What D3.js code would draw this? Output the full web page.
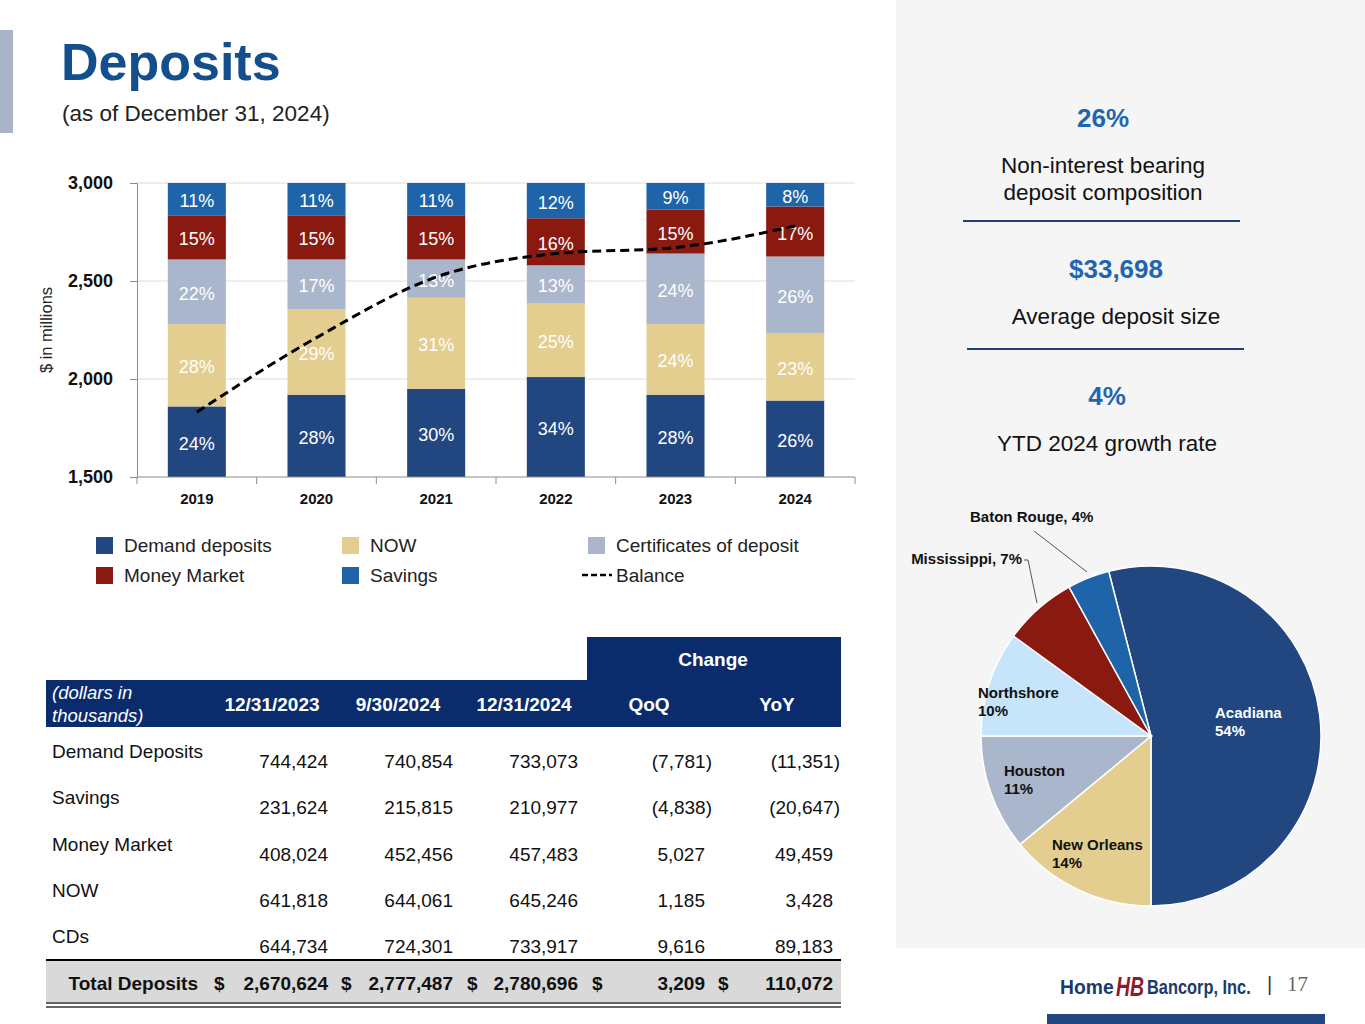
<!DOCTYPE html>
<html>
<head>
<meta charset="utf-8">
<script src="https://cdnjs.cloudflare.com/ajax/libs/d3/7.8.5/d3.min.js"></script>
<style>
  html, body { margin: 0; padding: 0; background: #fff; }
  svg { display: block; font-family: "Liberation Sans", Arial, sans-serif; }
</style>
</head>
<body>
<div id="chart"></div>
<script>
// bar chart data
var years = ['2019', '2020', '2021', '2022', '2023', '2024'];
var seriesNames = ['Demand deposits', 'NOW', 'Certificates of deposit', 'Money Market', 'Savings'];
var demandPct = [24, 28, 30, 34, 28, 26];
var nowPct = [28, 29, 31, 25, 24, 23];
var cdPct = [22, 17, 13, 13, 24, 26];
var mmPct = [15, 15, 15, 16, 15, 17];
var savingsPct = [11, 11, 11, 12, 9, 8];
var balance = [1831, 2211, 2520, 2640, 2671, 2781];
var yTicks = [1500, 2000, 2500, 3000];

// table data
var tableCols = ['12/31/2023', '9/30/2024', '12/31/2024', 'QoQ', 'YoY'];
var rowLabels = ['Demand Deposits', 'Savings', 'Money Market', 'NOW', 'CDs'];
var dec2023 = [744424, 231624, 408024, 641818, 644734];
var sep2024 = [740854, 215815, 452456, 644061, 724301];
var dec2024 = [733073, 210977, 457483, 645246, 733917];
var qoq = [-7781, -4838, 5027, 1185, 9616];
var yoy = [-11351, -20647, 49459, 3428, 89183];
var totals = [2670624, 2777487, 2780696, 3209, 110072];

// pie data
var markets = ['Acadiana', 'New Orleans', 'Houston', 'Northshore', 'Mississippi', 'Baton Rouge'];
var marketShare = [54, 14, 11, 10, 7, 4];

// side stats
var statValues = ['26%', '$33,698', '4%'];
var statLabels = [['Non-interest bearing', 'deposit composition'], ['Average deposit size'], ['YTD 2024 growth rate']];

var colors = {
  'Demand deposits': '#22467f',
  'NOW': '#e3cd8f',
  'Certificates of deposit': '#aab6cb',
  'Money Market': '#8a1a10',
  'Savings': '#1f64a8'
};
var pieColors = ['#22467f', '#e3cd8f', '#aab6cb', '#c6e4fa', '#8a1a10', '#1f64a8'];

var width = 1365, height = 1024;
var svg = d3.select('#chart').append('svg')
  .attr('width', width)
  .attr('height', height);

// right panel background
svg.append('rect').attr('x', 896).attr('y', 0).attr('width', width - 896).attr('height', 948).attr('fill', '#f5f5f5');

// title
svg.append('rect').attr('x', 0).attr('y', 30).attr('width', 13).attr('height', 103).attr('fill', '#aab4c8');
svg.append('text').attr('x', 61).attr('y', 80)
  .attr('font-size', 52).attr('font-weight', 'bold').attr('fill', '#124f8c')
  .text('Deposits');
svg.append('text').attr('x', 62).attr('y', 121)
  .attr('font-size', 22.5).attr('fill', '#222')
  .text('(as of December 31, 2024)');

// ---- stacked bar chart ----
var plotLeft = 137, plotRight = 855, plotTop = 183, plotBottom = 477;

var x = d3.scaleBand().domain(years).range([plotLeft, plotRight]).paddingInner(0.515).paddingOuter(0.2575);
var yBal = d3.scaleLinear().domain([1500, 3000]).range([plotBottom, plotTop]);
var yPct = d3.scaleLinear().domain([0, 100]).range([plotBottom, plotTop]);

var rows = years.map(function(yr, i) {
  return {
    year: yr,
    'Demand deposits': demandPct[i],
    'NOW': nowPct[i],
    'Certificates of deposit': cdPct[i],
    'Money Market': mmPct[i],
    'Savings': savingsPct[i]
  };
});
var stack = d3.stack().keys(seriesNames)(rows);

// gridlines
svg.append('g').selectAll('line').data(yTicks.slice(1)).enter().append('line')
  .attr('x1', plotLeft).attr('x2', plotRight)
  .attr('y1', function(d) { return yBal(d); }).attr('y2', function(d) { return yBal(d); })
  .attr('stroke', '#dcdcdc').attr('stroke-width', 1);

var layer = svg.append('g').selectAll('g').data(stack).enter().append('g')
  .attr('fill', function(d) { return colors[d.key]; });

layer.selectAll('rect').data(function(d) { return d; }).enter().append('rect')
  .attr('x', function(d) { return x(d.data.year); })
  .attr('width', x.bandwidth())
  .attr('y', function(d) { return yPct(d[1]); })
  .attr('height', function(d) { return yPct(d[0]) - yPct(d[1]); });

layer.selectAll('text').data(function(d) { return d; }).enter().append('text')
  .attr('x', function(d) { return x(d.data.year) + x.bandwidth() / 2; })
  .attr('y', function(d) { return (yPct(d[0]) + yPct(d[1])) / 2 + 8; })
  .attr('text-anchor', 'middle')
  .attr('font-size', 18)
  .attr('fill', '#fff')
  .text(function(d) { return (d[1] - d[0]) + '%'; });

// y axis
var yAxis = svg.append('g').attr('transform', 'translate(' + plotLeft + ',0)')
  .call(d3.axisLeft(yBal).tickValues(yTicks).tickFormat(d3.format(',')).tickSize(7).tickPadding(17));
yAxis.select('.domain').attr('stroke', '#8c8c8c');
yAxis.selectAll('.tick line').attr('stroke', '#8c8c8c');
yAxis.selectAll('.tick text').attr('font-size', 18).attr('font-weight', 'bold').attr('fill', '#111')
  .attr('font-family', '"Liberation Sans", Arial, sans-serif');

svg.append('text')
  .attr('transform', 'translate(52,' + (plotTop + plotBottom) / 2 + ') rotate(-90)')
  .attr('text-anchor', 'middle').attr('font-size', 16.5).attr('fill', '#222')
  .text('$ in millions');

// x axis
svg.append('line').attr('x1', plotLeft).attr('x2', plotRight).attr('y1', plotBottom).attr('y2', plotBottom)
  .attr('stroke', '#8c8c8c');
var boundaries = d3.range(years.length + 1).map(function(i) { return plotLeft + i * (plotRight - plotLeft) / years.length; });
svg.append('g').selectAll('line').data(boundaries).enter().append('line')
  .attr('x1', function(d) { return d; }).attr('x2', function(d) { return d; })
  .attr('y1', plotBottom).attr('y2', plotBottom + 7)
  .attr('stroke', '#8c8c8c');
svg.append('g').selectAll('text').data(years).enter().append('text')
  .attr('x', function(d) { return x(d) + x.bandwidth() / 2; })
  .attr('y', 504)
  .attr('text-anchor', 'middle')
  .attr('font-size', 15).attr('font-weight', 'bold').attr('fill', '#111')
  .text(function(d) { return d; });

// balance line
var line = d3.line()
  .x(function(d, i) { return x(years[i]) + x.bandwidth() / 2; })
  .y(function(d) { return yBal(d); })
  .curve(d3.curveMonotoneX);
svg.append('path').datum(balance)
  .attr('d', line)
  .attr('fill', 'none').attr('stroke', '#000').attr('stroke-width', 3)
  .attr('stroke-dasharray', '9,5');

// legend
var legendItems = [
  { name: 'Demand deposits', x: 96, y: 537 },
  { name: 'NOW', x: 342, y: 537 },
  { name: 'Certificates of deposit', x: 588, y: 537 },
  { name: 'Money Market', x: 96, y: 567 },
  { name: 'Savings', x: 342, y: 567 },
  { name: 'Balance', x: 588, y: 567, line: true }
];
var lg = svg.append('g').selectAll('g').data(legendItems).enter().append('g');
lg.each(function(d) {
  var g = d3.select(this);
  if (d.line) {
    g.append('line').attr('x1', d.x - 6).attr('x2', d.x + 24).attr('y1', d.y + 8).attr('y2', d.y + 8)
      .attr('stroke', '#000').attr('stroke-width', 2.5).attr('stroke-dasharray', '6,3');
  } else {
    g.append('rect').attr('x', d.x).attr('y', d.y).attr('width', 17).attr('height', 17)
      .attr('fill', colors[d.name]);
  }
  g.append('text').attr('x', d.x + 28).attr('y', d.y + 15)
    .attr('font-size', 19).attr('fill', '#222').text(d.name);
});

// ---- table ----
var navy = '#0b2c6c';
var fs = 19;
svg.append('rect').attr('x', 587).attr('y', 637).attr('width', 841 - 587).attr('height', 44).attr('fill', navy);
svg.append('rect').attr('x', 46).attr('y', 680).attr('width', 841 - 46).attr('height', 47).attr('fill', navy);
svg.append('text').attr('x', 713).attr('y', 666).attr('text-anchor', 'middle')
  .attr('font-size', fs).attr('font-weight', 'bold').attr('fill', '#fff').text('Change');
svg.append('text').attr('x', 52).attr('y', 699).attr('font-size', 18.5).attr('font-style', 'italic').attr('fill', '#fff').text('(dollars in');
svg.append('text').attr('x', 52).attr('y', 722).attr('font-size', 18.5).attr('font-style', 'italic').attr('fill', '#fff').text('thousands)');

var colCenters = [272, 398, 524, 649, 777];
var colRights = [328, 453, 578, 712, 840];
svg.append('g').selectAll('text').data(tableCols).enter().append('text')
  .attr('x', function(d, i) { return colCenters[i]; })
  .attr('y', 711)
  .attr('text-anchor', 'middle')
  .attr('font-size', fs).attr('font-weight', 'bold').attr('fill', '#fff')
  .text(function(d) { return d; });

var fmt = d3.format(',');
function fmtVal(v) { return v < 0 ? '(' + fmt(-v) + ')' : fmt(v); }
var colData = [dec2023, sep2024, dec2024, qoq, yoy];

var rowStep = 46.3;
rowLabels.forEach(function(lbl, i) {
  svg.append('text').attr('x', 52).attr('y', 758 + rowStep * i)
    .attr('font-size', fs).attr('fill', '#111').text(lbl);
  colData.forEach(function(col, j) {
    var v = col[i];
    svg.append('text')
      .attr('x', v < 0 ? colRights[j] : colRights[j] - (j >= 3 ? 7 : 0))
      .attr('y', 768 + rowStep * i)
      .attr('text-anchor', 'end')
      .attr('font-size', fs).attr('fill', '#111')
      .text(fmtVal(v));
  });
});

// total row
svg.append('rect').attr('x', 46).attr('y', 960).attr('width', 841 - 46).attr('height', 42).attr('fill', '#d9d9d9');
svg.append('line').attr('x1', 46).attr('x2', 841).attr('y1', 960).attr('y2', 960).attr('stroke', '#000').attr('stroke-width', 2);
svg.append('line').attr('x1', 46).attr('x2', 841).attr('y1', 1003).attr('y2', 1003).attr('stroke', '#333').attr('stroke-width', 1.5);
svg.append('line').attr('x1', 46).attr('x2', 841).attr('y1', 1007).attr('y2', 1007).attr('stroke', '#333').attr('stroke-width', 1.5);
svg.append('text').attr('x', 198).attr('y', 990).attr('text-anchor', 'end')
  .attr('font-size', fs).attr('font-weight', 'bold').attr('fill', '#111').text('Total Deposits');
var dollarX = [214, 341, 467, 592, 718];
totals.forEach(function(v, j) {
  svg.append('text').attr('x', dollarX[j]).attr('y', 990)
    .attr('font-size', fs).attr('font-weight', 'bold').attr('fill', '#111').text('$');
  svg.append('text').attr('x', colRights[j] - (j >= 3 ? 7 : 0)).attr('y', 990)
    .attr('text-anchor', 'end')
    .attr('font-size', fs).attr('font-weight', 'bold').attr('fill', '#111').text(fmtVal(v));
});

// ---- side stats ----
var statCenters = [1103, 1116, 1107];
var statTops = [127, 278, 405];
statValues.forEach(function(v, i) {
  svg.append('text').attr('x', statCenters[i]).attr('y', statTops[i])
    .attr('text-anchor', 'middle').attr('font-size', 26).attr('font-weight', 'bold').attr('fill', '#1f66b0')
    .text(v);
  statLabels[i].forEach(function(l, k) {
    svg.append('text').attr('x', statCenters[i]).attr('y', statTops[i] + 46 + k * 27)
      .attr('text-anchor', 'middle').attr('font-size', 22.5).attr('fill', '#111')
      .text(l);
  });
});
svg.append('line').attr('x1', 963).attr('x2', 1240).attr('y1', 221).attr('y2', 221).attr('stroke', '#1f3f7a').attr('stroke-width', 2);
svg.append('line').attr('x1', 967).attr('x2', 1244).attr('y1', 349).attr('y2', 349).attr('stroke', '#1f3f7a').attr('stroke-width', 2);

// ---- pie ----
var cx = 1151, cy = 736, r = 170;
var pie = d3.pie().sort(null).startAngle(-0.08 * Math.PI).endAngle(1.92 * Math.PI);
var arcs = pie(marketShare);
var arc = d3.arc().innerRadius(0).outerRadius(r);
var pg = svg.append('g').attr('transform', 'translate(' + cx + ',' + cy + ')');
pg.selectAll('path').data(arcs).enter().append('path')
  .attr('d', arc)
  .attr('fill', function(d, i) { return pieColors[i]; })
  .attr('stroke', '#fff').attr('stroke-width', 1.5);

var pieLabels = [
  { x: 1215, y: 718, lines: [markets[0], marketShare[0] + '%'], fill: '#fff' },
  { x: 1052, y: 850, lines: [markets[1], marketShare[1] + '%'], fill: '#111' },
  { x: 1004, y: 776, lines: [markets[2], marketShare[2] + '%'], fill: '#111' },
  { x: 978, y: 698, lines: [markets[3], marketShare[3] + '%'], fill: '#111' }
];
pieLabels.forEach(function(p) {
  p.lines.forEach(function(l, k) {
    svg.append('text').attr('x', p.x).attr('y', p.y + k * 18)
      .attr('font-size', 15).attr('font-weight', 'bold').attr('fill', p.fill).text(l);
  });
});
svg.append('text').attr('x', 1022).attr('y', 564).attr('text-anchor', 'end')
  .attr('font-size', 15).attr('font-weight', 'bold').attr('fill', '#111')
  .text(markets[4] + ', ' + marketShare[4] + '%');
svg.append('polyline').attr('points', '1024,560 1028,560 1037,603')
  .attr('fill', 'none').attr('stroke', '#555').attr('stroke-width', 1);
svg.append('text').attr('x', 970).attr('y', 522)
  .attr('font-size', 15).attr('font-weight', 'bold').attr('fill', '#111')
  .text(markets[5] + ', ' + marketShare[5] + '%');
svg.append('line').attr('x1', 1034).attr('y1', 531).attr('x2', 1087).attr('y2', 572)
  .attr('stroke', '#555').attr('stroke-width', 1);

// ---- footer ----
// logo words squeezed horizontally with a scale transform
svg.append('text').attr('transform', 'translate(1060,994) scale(0.92,1)')
  .attr('font-size', 21).attr('font-weight', 'bold').attr('fill', '#1b3a6b').text('Home');
svg.append('text').attr('transform', 'translate(1116,996) scale(0.72,1)')
  .attr('font-size', 27).attr('font-weight', 'bold').attr('font-style', 'italic').attr('fill', '#8c1c2c').text('HB');
svg.append('text').attr('transform', 'translate(1147,994) scale(0.78,1)')
  .attr('font-size', 21).attr('font-weight', 'bold').attr('fill', '#1b3a6b').text('Bancorp, Inc.');
svg.append('text').attr('x', 1267).attr('y', 991).attr('font-size', 20).attr('fill', '#333').text('|');
svg.append('text').attr('x', 1287).attr('y', 991).attr('font-size', 21).attr('fill', '#666')
  .attr('font-family', '"Liberation Serif", "DejaVu Serif", serif').text('17');
svg.append('rect').attr('x', 1047).attr('y', 1014).attr('width', 278).attr('height', 10).attr('fill', '#22467f');
</script>
</body>
</html>
